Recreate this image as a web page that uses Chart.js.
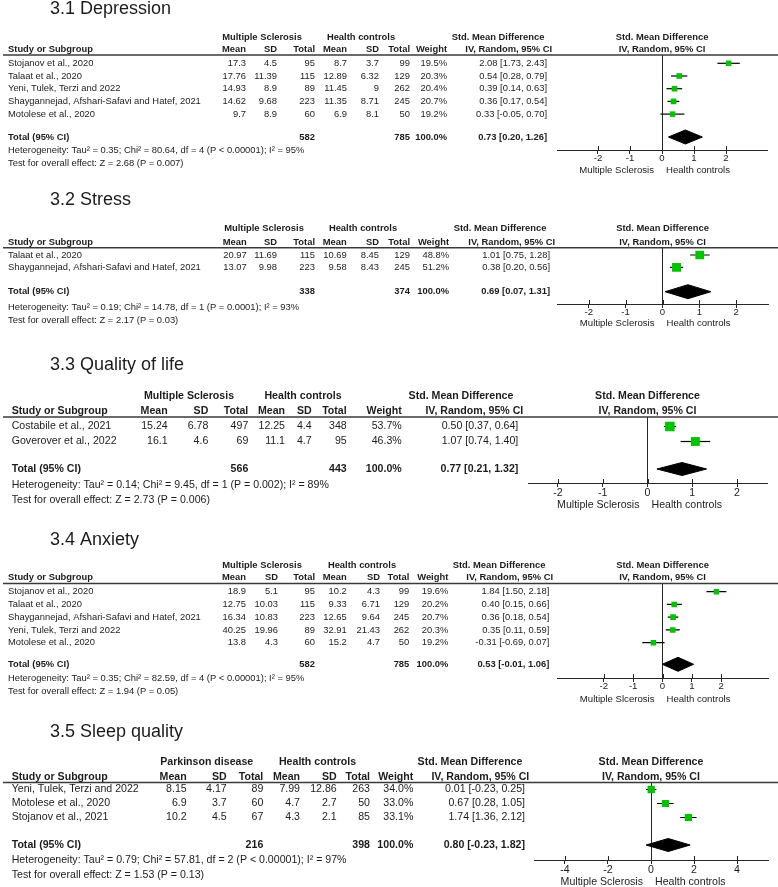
<!DOCTYPE html>
<html><head><meta charset="utf-8">
<script src="https://cdn.jsdelivr.net/npm/chart.js@4.4.1/dist/chart.umd.min.js"></script>
<style>
html,body{margin:0;padding:0;background:#fff;}
#wrap{position:relative;width:778px;height:887px;overflow:hidden;background:#fff;}
canvas{position:absolute;left:0;}
</style></head><body><div id="wrap">
<canvas id="c1" width="778" height="180" style="top:0px"></canvas>
<canvas id="c2" width="778" height="150" style="top:180px"></canvas>
<canvas id="c3" width="778" height="182" style="top:330px"></canvas>
<canvas id="c4" width="778" height="195" style="top:512px"></canvas>
<canvas id="c5" width="778" height="180" style="top:707px"></canvas>
</div>
<script>
// ---------- 3.1 Depression ----------
const depTitle = '3.1 Depression';
const depGroups = ['Multiple Sclerosis', 'Health controls'];
const depStudies = ['Stojanov et al., 2020', 'Talaat et al., 2020', 'Yeni, Tulek, Terzi and 2022', 'Shaygannejad, Afshari-Safavi and Hatef, 2021', 'Motolese et al., 2020'];
const depExpMean = [17.3, 17.76, 14.93, 14.62, 9.7];
const depExpSD = [4.5, 11.39, 8.9, 9.68, 8.9];
const depExpN = [95, 115, 89, 223, 60];
const depCtlMean = [8.7, 12.89, 11.45, 11.35, 6.9];
const depCtlSD = [3.7, 6.32, 9, 8.71, 8.1];
const depCtlN = [99, 129, 262, 245, 50];
const depWeight = [19.5, 20.3, 20.4, 20.7, 19.2];
const depSMD = [2.08, 0.54, 0.39, 0.36, 0.33];
const depLower = [1.73, 0.28, 0.14, 0.17, -0.05];
const depUpper = [2.43, 0.79, 0.63, 0.54, 0.70];
const depTotalN = [582, 785];
const depPooled = [0.73, 0.20, 1.26];
const depHet = 'Heterogeneity: Tau² = 0.35; Chi² = 80.64, df = 4 (P < 0.00001); I² = 95%';
const depTest = 'Test for overall effect: Z = 2.68 (P = 0.007)';
const depTicks = [-2, -1, 0, 1, 2];
const depAxisLabels = ['Multiple Sclerosis', 'Health controls'];

// ---------- 3.2 Stress ----------
const strTitle = '3.2 Stress';
const strGroups = ['Multiple Sclerosis', 'Health controls'];
const strStudies = ['Talaat et al., 2020', 'Shaygannejad, Afshari-Safavi and Hatef, 2021'];
const strExpMean = [20.97, 13.07];
const strExpSD = [11.69, 9.98];
const strExpN = [115, 223];
const strCtlMean = [10.69, 9.58];
const strCtlSD = [8.45, 8.43];
const strCtlN = [129, 245];
const strWeight = [48.8, 51.2];
const strSMD = [1.01, 0.38];
const strLower = [0.75, 0.20];
const strUpper = [1.28, 0.56];
const strTotalN = [338, 374];
const strPooled = [0.69, 0.07, 1.31];
const strHet = 'Heterogeneity: Tau² = 0.19; Chi² = 14.78, df = 1 (P = 0.0001); I² = 93%';
const strTest = 'Test for overall effect: Z = 2.17 (P = 0.03)';
const strTicks = [-2, -1, 0, 1, 2];
const strAxisLabels = ['Multiple Sclerosis', 'Health controls'];

// ---------- 3.3 Quality of life ----------
const qolTitle = '3.3 Quality of life';
const qolGroups = ['Multiple Sclerosis', 'Health controls'];
const qolStudies = ['Costabile et al., 2021', 'Goverover et al., 2022'];
const qolExpMean = [15.24, 16.1];
const qolExpSD = [6.78, 4.6];
const qolExpN = [497, 69];
const qolCtlMean = [12.25, 11.1];
const qolCtlSD = [4.4, 4.7];
const qolCtlN = [348, 95];
const qolWeight = [53.7, 46.3];
const qolSMD = [0.50, 1.07];
const qolLower = [0.37, 0.74];
const qolUpper = [0.64, 1.40];
const qolTotalN = [566, 443];
const qolPooled = [0.77, 0.21, 1.32];
const qolHet = 'Heterogeneity: Tau² = 0.14; Chi² = 9.45, df = 1 (P = 0.002); I² = 89%';
const qolTest = 'Test for overall effect: Z = 2.73 (P = 0.006)';
const qolTicks = [-2, -1, 0, 1, 2];
const qolAxisLabels = ['Multiple Sclerosis', 'Health controls'];

// ---------- 3.4 Anxiety ----------
const anxTitle = '3.4 Anxiety';
const anxGroups = ['Multiple Sclerosis', 'Health controls'];
const anxStudies = ['Stojanov et al., 2020', 'Talaat et al., 2020', 'Shaygannejad, Afshari-Safavi and Hatef, 2021', 'Yeni, Tulek, Terzi and 2022', 'Motolese et al., 2020'];
const anxExpMean = [18.9, 12.75, 16.34, 40.25, 13.8];
const anxExpSD = [5.1, 10.03, 10.83, 19.96, 4.3];
const anxExpN = [95, 115, 223, 89, 60];
const anxCtlMean = [10.2, 9.33, 12.65, 32.91, 15.2];
const anxCtlSD = [4.3, 6.71, 9.64, 21.43, 4.7];
const anxCtlN = [99, 129, 245, 262, 50];
const anxWeight = [19.6, 20.2, 20.7, 20.3, 19.2];
const anxSMD = [1.84, 0.40, 0.36, 0.35, -0.31];
const anxLower = [1.50, 0.15, 0.18, 0.11, -0.69];
const anxUpper = [2.18, 0.66, 0.54, 0.59, 0.07];
const anxTotalN = [582, 785];
const anxPooled = [0.53, -0.01, 1.06];
const anxHet = 'Heterogeneity: Tau² = 0.35; Chi² = 82.59, df = 4 (P < 0.00001); I² = 95%';
const anxTest = 'Test for overall effect: Z = 1.94 (P = 0.05)';
const anxTicks = [-2, -1, 0, 1, 2];
const anxAxisLabels = ['Multiple Slcerosis', 'Health controls'];

// ---------- 3.5 Sleep quality ----------
const slpTitle = '3.5 Sleep quality';
const slpGroups = ['Parkinson disease', 'Health controls'];
const slpStudies = ['Yeni, Tulek, Terzi and 2022', 'Motolese et al., 2020', 'Stojanov et al., 2021'];
const slpExpMean = [8.15, 6.9, 10.2];
const slpExpSD = [4.17, 3.7, 4.5];
const slpExpN = [89, 60, 67];
const slpCtlMean = [7.99, 4.7, 4.3];
const slpCtlSD = [12.86, 2.7, 2.1];
const slpCtlN = [263, 50, 85];
const slpWeight = [34.0, 33.0, 33.1];
const slpSMD = [0.01, 0.67, 1.74];
const slpLower = [-0.23, 0.28, 1.36];
const slpUpper = [0.25, 1.05, 2.12];
const slpTotalN = [216, 398];
const slpPooled = [0.80, -0.23, 1.82];
const slpHet = 'Heterogeneity: Tau² = 0.79; Chi² = 57.81, df = 2 (P < 0.00001); I² = 97%';
const slpTest = 'Test for overall effect: Z = 1.53 (P = 0.13)';
const slpTicks = [-4, -2, 0, 2, 4];
const slpAxisLabels = ['Multiple Sclerosis', 'Health controls'];

// ---------- styles / layout ----------
const FONT = '"Liberation Sans", Arial, sans-serif';
const TXT = '#1c1c1c';
const AXIS = '#262626';
const GREEN = '#00c400';

const smallCols = {study: 8, expMean: 246, expSD: 277, expN: 315, ctlMean: 347, ctlSD: 379, ctlN: 410, weight: 447, ci: 547, expGroup: 262, ctlGroup: 361, smd: 498, iv: 552};
const L1 = {canvasTop: 0, height: 180, lineY: 55, axisY: 150, rowY0: 63.3, rowH: 12.7, totalY: 137, hetY: 150, testY: 163, titleY: 13.5,
  fs: 9.4, tfs: 18, tickFs: 9.6, tickPad: 0, axLabOff: 20, xLeft: 557, xRight: 767, xLim: 3.28, hdr1: -18, hdr2: -6, diamondH: 7, boxK: 1.25, cols: smallCols};
const L2 = {canvasTop: 180, height: 150, lineY: 247.7, axisY: 304, rowY0: 255, rowH: 12.4, totalY: 291.7, hetY: 307.5, testY: 320, titleY: 205,
  fs: 9.4, tfs: 18, tickFs: 9.6, tickPad: 0, axLabOff: 19, xLeft: 557, xRight: 768, xLim: 2.86, hdr1: -19.5, hdr2: -5.5, diamondH: 7, boxK: 1.25,
  cols: {study: 8, expMean: 246.7, expSD: 277, expN: 315, ctlMean: 346.7, ctlSD: 379, ctlN: 410, weight: 449, ci: 550, expGroup: 264, ctlGroup: 363, smd: 500, iv: 555}};
const L3 = {canvasTop: 330, height: 182, lineY: 417, axisY: 483, rowY0: 426.5, rowH: 15, totalY: 469, hetY: 485, testY: 500, titleY: 370,
  fs: 10.6, tfs: 18, tickFs: 10.6, tickPad: 1, axLabOff: 22, xLeft: 528, xRight: 767, xLim: 2.67, hdr1: -21, hdr2: -6, diamondH: 6.5, boxK: 1.3,
  cols: {study: 11.7, expMean: 167.7, expSD: 208.3, expN: 248.3, ctlMean: 285, ctlSD: 311.7, ctlN: 346.7, weight: 401.7, ci: 518.3, expGroup: 189, ctlGroup: 303, smd: 461, iv: 523.3}};
const L4 = {canvasTop: 512, height: 195, lineY: 583.5, axisY: 678, rowY0: 591.7, rowH: 12.75, totalY: 664.3, hetY: 678.3, testY: 691.7, titleY: 545,
  fs: 9.4, tfs: 18, tickFs: 9.6, tickPad: 0, axLabOff: 21, xLeft: 557, xRight: 768, xLim: 3.6, hdr1: -18.5, hdr2: -6, diamondH: 7, boxK: 1.25,
  cols: {study: 8, expMean: 246, expSD: 278, expN: 315, ctlMean: 346.7, ctlSD: 380, ctlN: 409.3, weight: 448.3, ci: 549.3, expGroup: 262, ctlGroup: 362, smd: 499, iv: 553}};
const L5 = {canvasTop: 707, height: 180, lineY: 782.5, axisY: 860, rowY0: 789.5, rowH: 14, totalY: 845, hetY: 860, testY: 875, titleY: 736.7,
  fs: 10.6, tfs: 18, tickFs: 10.6, tickPad: 1, axLabOff: 22, xLeft: 534, xRight: 768, xLim: 5.44, hdr1: -20, hdr2: -5.5, diamondH: 6.5, boxK: 1.25,
  cols: {study: 11.7, expMean: 186.7, expSD: 226.7, expN: 263.3, ctlMean: 300, ctlSD: 336.7, ctlN: 370, weight: 413.3, ci: 525, expGroup: 206.7, ctlGroup: 317.5, smd: 470, iv: 529.3}};

const panels = [
  {id: 'c1', L: L1, title: depTitle, groups: depGroups, studies: depStudies, expMean: depExpMean, expSD: depExpSD, expN: depExpN, ctlMean: depCtlMean, ctlSD: depCtlSD, ctlN: depCtlN, weight: depWeight, smd: depSMD, lo: depLower, hi: depUpper, totalN: depTotalN, pooled: depPooled, het: depHet, test: depTest, ticks: depTicks, axisLabels: depAxisLabels},
  {id: 'c2', L: L2, title: strTitle, groups: strGroups, studies: strStudies, expMean: strExpMean, expSD: strExpSD, expN: strExpN, ctlMean: strCtlMean, ctlSD: strCtlSD, ctlN: strCtlN, weight: strWeight, smd: strSMD, lo: strLower, hi: strUpper, totalN: strTotalN, pooled: strPooled, het: strHet, test: strTest, ticks: strTicks, axisLabels: strAxisLabels},
  {id: 'c3', L: L3, title: qolTitle, groups: qolGroups, studies: qolStudies, expMean: qolExpMean, expSD: qolExpSD, expN: qolExpN, ctlMean: qolCtlMean, ctlSD: qolCtlSD, ctlN: qolCtlN, weight: qolWeight, smd: qolSMD, lo: qolLower, hi: qolUpper, totalN: qolTotalN, pooled: qolPooled, het: qolHet, test: qolTest, ticks: qolTicks, axisLabels: qolAxisLabels},
  {id: 'c4', L: L4, title: anxTitle, groups: anxGroups, studies: anxStudies, expMean: anxExpMean, expSD: anxExpSD, expN: anxExpN, ctlMean: anxCtlMean, ctlSD: anxCtlSD, ctlN: anxCtlN, weight: anxWeight, smd: anxSMD, lo: anxLower, hi: anxUpper, totalN: anxTotalN, pooled: anxPooled, het: anxHet, test: anxTest, ticks: anxTicks, axisLabels: anxAxisLabels},
  {id: 'c5', L: L5, title: slpTitle, groups: slpGroups, studies: slpStudies, expMean: slpExpMean, expSD: slpExpSD, expN: slpExpN, ctlMean: slpCtlMean, ctlSD: slpCtlSD, ctlN: slpCtlN, weight: slpWeight, smd: slpSMD, lo: slpLower, hi: slpUpper, totalN: slpTotalN, pooled: slpPooled, het: slpHet, test: slpTest, ticks: slpTicks, axisLabels: slpAxisLabels}
];

const ciText = (m, l, h) => `${m.toFixed(2)} [${l.toFixed(2)}, ${h.toFixed(2)}]`;

function tablePlugin(P) {
  return {
    id: 'forestTable',
    afterDraw(chart) {
      const ctx = chart.ctx, L = P.L, C = L.cols, ys = chart.scales.y, xs = chart.scales.x, ca = chart.chartArea;
      const rowV = y => (y - L.rowY0) / L.rowH;
      const reg = `${L.fs}px ${FONT}`, bold = `bold ${L.fs}px ${FONT}`;
      const put = (font, s, x, y, align) => { ctx.font = font; ctx.textAlign = align; ctx.fillText(s, x, y); };
      ctx.save();
      ctx.fillStyle = TXT;
      // title
      ctx.textBaseline = 'alphabetic';
      put(`${L.tfs}px ${FONT}`, P.title, 50, L.titleY - L.canvasTop, 'left');
      ctx.textBaseline = 'middle';
      // headers
      const h1 = ca.top + L.hdr1, h2 = ca.top + L.hdr2;
      const zx = xs.getPixelForValue(0);
      put(bold, P.groups[0], C.expGroup, h1, 'center');
      put(bold, P.groups[1], C.ctlGroup, h1, 'center');
      put(bold, 'Std. Mean Difference', C.smd, h1, 'center');
      put(bold, 'Std. Mean Difference', zx, h1, 'center');
      put(bold, 'Study or Subgroup', C.study, h2, 'left');
      put(bold, 'Mean', C.expMean, h2, 'right');
      put(bold, 'SD', C.expSD, h2, 'right');
      put(bold, 'Total', C.expN, h2, 'right');
      put(bold, 'Mean', C.ctlMean, h2, 'right');
      put(bold, 'SD', C.ctlSD, h2, 'right');
      put(bold, 'Total', C.ctlN, h2, 'right');
      put(bold, 'Weight', C.weight, h2, 'right');
      put(bold, 'IV, Random, 95% CI', C.iv, h2, 'right');
      put(bold, 'IV, Random, 95% CI', zx, h2, 'center');
      // study rows
      P.studies.forEach((s, i) => {
        const y = ys.getPixelForValue(i);
        put(reg, s, C.study, y, 'left');
        put(reg, String(P.expMean[i]), C.expMean, y, 'right');
        put(reg, String(P.expSD[i]), C.expSD, y, 'right');
        put(reg, String(P.expN[i]), C.expN, y, 'right');
        put(reg, String(P.ctlMean[i]), C.ctlMean, y, 'right');
        put(reg, String(P.ctlSD[i]), C.ctlSD, y, 'right');
        put(reg, String(P.ctlN[i]), C.ctlN, y, 'right');
        put(reg, P.weight[i].toFixed(1) + '%', C.weight, y, 'right');
        put(reg, ciText(P.smd[i], P.lo[i], P.hi[i]), C.ci, y, 'right');
      });
      // total row
      const ty = ys.getPixelForValue(rowV(L.totalY));
      put(bold, 'Total (95% CI)', C.study, ty, 'left');
      put(bold, String(P.totalN[0]), C.expN, ty, 'right');
      put(bold, String(P.totalN[1]), C.ctlN, ty, 'right');
      put(bold, (100).toFixed(1) + '%', C.weight, ty, 'right');
      put(bold, ciText(P.pooled[0], P.pooled[1], P.pooled[2]), C.ci, ty, 'right');
      put(reg, P.het, C.study, ys.getPixelForValue(rowV(L.hetY)), 'left');
      put(reg, P.test, C.study, ys.getPixelForValue(rowV(L.testY)), 'left');
      // axis side labels
      const ay = ca.bottom + L.axLabOff;
      put(`${L.tickFs}px ${FONT}`, P.axisLabels[0], zx - 8, ay, 'right');
      put(`${L.tickFs}px ${FONT}`, P.axisLabels[1], zx + 4, ay, 'left');
      // header rule
      ctx.strokeStyle = '#3a3a3a';
      ctx.lineWidth = 1.6;
      ctx.beginPath(); ctx.moveTo(3, ca.top); ctx.lineTo(778, ca.top); ctx.stroke();
      // tick marks crossing above the axis
      ctx.strokeStyle = AXIS; ctx.lineWidth = 1;
      P.ticks.forEach(t => {
        const x = Math.round(xs.getPixelForValue(t)) + 0.5;
        ctx.beginPath(); ctx.moveTo(x, ca.bottom - 4); ctx.lineTo(x, ca.bottom); ctx.stroke();
      });
      ctx.restore();
    }
  };
}

function build(P) {
  const L = P.L;
  const rowV = y => (y - L.rowY0) / L.rowH;
  const T = rowV(L.totalY), dh = L.diamondH / L.rowH;
  const datasets = [];
  datasets.push({
    type: 'scatter', label: 'Std. Mean Difference', order: 0,
    data: P.smd.map((m, i) => ({x: m, y: i})),
    pointStyle: 'rect', pointRadius: P.weight.map(w => L.boxK * Math.sqrt(w) / Math.SQRT2),
    pointHoverRadius: P.weight.map(w => L.boxK * Math.sqrt(w) / Math.SQRT2),
    backgroundColor: GREEN, borderColor: GREEN, borderWidth: 0
  });
  P.lo.forEach((lo, i) => {
    datasets.push({
      type: 'line', label: '95% CI ' + P.studies[i], order: 1,
      data: [{x: lo, y: i}, {x: P.hi[i], y: i}],
      borderColor: '#000', borderWidth: 1.2, pointRadius: 0, fill: false
    });
  });
  datasets.push({
    type: 'line', label: 'Total upper', order: 2,
    data: [{x: P.pooled[1], y: T}, {x: P.pooled[0], y: T - dh}, {x: P.pooled[2], y: T}],
    borderColor: '#000', borderWidth: 1, pointRadius: 0, backgroundColor: '#000', fill: '+1', tension: 0
  });
  datasets.push({
    type: 'line', label: 'Total lower', order: 2,
    data: [{x: P.pooled[1], y: T}, {x: P.pooled[0], y: T + dh}, {x: P.pooled[2], y: T}],
    borderColor: '#000', borderWidth: 1, pointRadius: 0, backgroundColor: '#000', fill: false, tension: 0
  });
  new Chart(document.getElementById(P.id), {
    type: 'scatter',
    data: {datasets},
    options: {
      responsive: false, animation: false, devicePixelRatio: 1,
      events: [],
      layout: {padding: {top: L.lineY - L.canvasTop, left: L.xLeft, right: 778 - L.xRight, bottom: 0}},
      plugins: {legend: {display: false}, tooltip: {enabled: false}, title: {display: false}},
      scales: {
        x: {
          type: 'linear', position: 'bottom', min: -L.xLim, max: L.xLim, bounds: 'data',
          afterBuildTicks: s => { s.ticks = P.ticks.map(t => ({value: t})); },
          afterFit: s => { s.height = L.height - (L.axisY - L.canvasTop); },
          grid: {display: true, drawOnChartArea: true, drawTicks: true, tickLength: 4, lineWidth: 1,
            color: c => (c.tick && c.tick.value === 0) ? AXIS : 'rgba(0,0,0,0)', tickColor: AXIS},
          border: {display: true, color: AXIS, width: 1},
          ticks: {font: {family: FONT, size: L.tickFs, lineHeight: 1}, color: TXT, padding: L.tickPad,
            autoSkip: false, maxRotation: 0, minRotation: 0, callback: v => String(v)}
        },
        y: {type: 'linear', display: false, reverse: true, min: rowV(L.lineY), max: rowV(L.axisY)}
      }
    },
    plugins: [tablePlugin(P)]
  });
}
panels.forEach(build);
</script>
</body></html>
